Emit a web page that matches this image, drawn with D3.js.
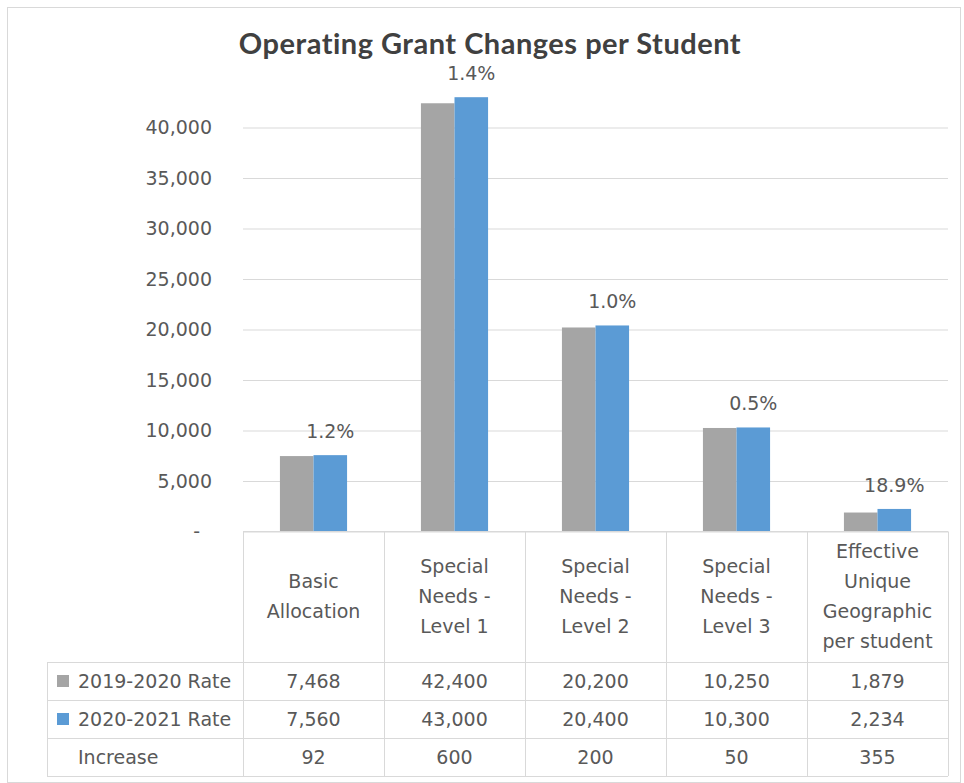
<!DOCTYPE html>
<html>
<head>
<meta charset="utf-8">
<script src="https://cdn.jsdelivr.net/npm/d3@7"></script>
<style>
  body { margin: 0; background: #fff; }
  text { font-family: "DejaVu Sans", sans-serif; fill: #595959; }
</style>
</head>
<body>
<svg id="chart" width="964" height="783"></svg>
<script>
// ---- data ----
const categories = ["Basic Allocation", "Special Needs - Level 1", "Special Needs - Level 2", "Special Needs - Level 3", "Effective Unique Geographic per student"];
const categoryLines = [
  ["Basic", "Allocation"],
  ["Special", "Needs -", "Level 1"],
  ["Special", "Needs -", "Level 2"],
  ["Special", "Needs -", "Level 3"],
  ["Effective", "Unique", "Geographic", "per student"]
];
const seriesNames = ["2019-2020 Rate", "2020-2021 Rate"];
const rate2019 = [7468, 42400, 20200, 10250, 1879];
const rate2021 = [7560, 43000, 20400, 10300, 2234];
const increase = [92, 600, 200, 50, 355];
const pctLabels = ["1.2%", "1.4%", "1.0%", "0.5%", "18.9%"];
const yTicks = [0, 5000, 10000, 15000, 20000, 25000, 30000, 35000, 40000];
const seriesColors = ["#a5a5a5", "#5b9bd5"];

// ---- layout ----
const svg = d3.select("#chart");
const plotLeft = 243, plotRight = 948, baseY = 531.5, tableBottom = 776;
const headerBottom = 662, tableLeft = 47;
const lineColor = "#d9d9d9";

// outer frame
svg.append("rect")
  .attr("x", 7.5).attr("y", 7.5).attr("width", 953).attr("height", 775)
  .attr("fill", "#fff").attr("stroke", lineColor);

// title
svg.append("text")
  .attr("x", 490).attr("y", 54)
  .attr("text-anchor", "middle")
  .style("font-family", "Lato, sans-serif")
  .style("font-weight", "bold")
  .style("font-size", "29px")
  .style("letter-spacing", "0.5px")
  .style("fill", "#404040")
  .text("Operating Grant Changes per Student");

// scales
const y = d3.scaleLinear().domain([0, 40000]).range([baseY, 127.5]);
const x0 = d3.scaleBand().domain(categories).range([plotLeft, plotRight]);
const x1 = d3.scaleBand().domain(seriesNames).range([0, x0.bandwidth()]).paddingOuter(1.1);

// y axis with gridlines
const fmt = d3.format(",");
const yAxis = svg.append("g")
  .attr("transform", `translate(${plotLeft},0)`)
  .call(d3.axisLeft(y).tickValues(yTicks).tickSize(-(plotRight - plotLeft)).tickPadding(31)
    .tickFormat(d => d === 0 ? "-" : fmt(d)));
yAxis.select(".domain").remove();
yAxis.selectAll(".tick line").attr("stroke", lineColor);
yAxis.selectAll(".tick text")
  .style("font-size", "19px")
  .style("fill", "#595959")
  .style("font-family", "'DejaVu Sans', sans-serif");
yAxis.selectAll(".tick").filter(d => d === 0).select("text").attr("x", -43);

// bars
const seriesValues = [rate2019, rate2021];
const groups = svg.append("g").selectAll("g")
  .data(categories)
  .join("g")
  .attr("transform", d => `translate(${x0(d)},0)`);

groups.selectAll("rect")
  .data((d, i) => seriesNames.map((s, k) => ({ s, v: seriesValues[k][i], k })))
  .join("rect")
  .attr("x", d => x1(d.s))
  .attr("width", x1.bandwidth())
  .attr("y", d => y(d.v))
  .attr("height", d => y(0) - y(d.v))
  .attr("fill", d => seriesColors[d.k]);

// percentage increase labels above the newer bar
groups.append("text")
  .attr("x", x1(seriesNames[1]) + x1.bandwidth() / 2)
  .attr("y", (d, i) => y(rate2021[i]) - 17)
  .attr("text-anchor", "middle")
  .style("font-size", "19px")
  .text((d, i) => pctLabels[i]);

// ---- data table ----
const rowNames = [seriesNames[0], seriesNames[1], "Increase"];
const rowValues = [rate2019, rate2021, increase];
const rows = d3.scaleBand().domain(rowNames).range([headerBottom, tableBottom]);

const grid = svg.append("g").attr("stroke", lineColor).attr("stroke-width", 1);
// top of header
grid.append("line").attr("x1", plotLeft).attr("x2", plotRight).attr("y1", baseY).attr("y2", baseY);
// horizontal row lines
rowNames.forEach(r => {
  grid.append("line").attr("x1", tableLeft).attr("x2", plotRight)
    .attr("y1", Math.round(rows(r)) + 0.5).attr("y2", Math.round(rows(r)) + 0.5);
});
grid.append("line").attr("x1", tableLeft).attr("x2", plotRight)
  .attr("y1", tableBottom + 0.5).attr("y2", tableBottom + 0.5);
// vertical lines
grid.append("line").attr("x1", tableLeft + 0.5).attr("x2", tableLeft + 0.5)
  .attr("y1", headerBottom).attr("y2", tableBottom);
categories.forEach(c => {
  const xx = Math.round(x0(c)) + 0.5;
  grid.append("line").attr("x1", xx).attr("x2", xx).attr("y1", baseY).attr("y2", tableBottom);
});
grid.append("line").attr("x1", plotRight + 0.5).attr("x2", plotRight + 0.5)
  .attr("y1", baseY).attr("y2", tableBottom);

// header labels (category names)
const headerMid = (baseY + headerBottom) / 2;
categories.forEach((c, i) => {
  const lines = categoryLines[i];
  const t = svg.append("text")
    .attr("text-anchor", "middle")
    .style("font-size", "19px");
  lines.forEach((ln, j) => {
    t.append("tspan")
      .attr("x", x0(c) + x0.bandwidth() / 2)
      .attr("y", headerMid + 6 + (j - (lines.length - 1) / 2) * 30)
      .text(ln);
  });
});

// row labels with legend keys
rowNames.forEach((r, k) => {
  const cy = rows(r) + rows.bandwidth() / 2;
  if (k < 2) {
    svg.append("rect")
      .attr("x", 57).attr("y", cy - 6).attr("width", 12).attr("height", 12)
      .attr("fill", seriesColors[k]);
  }
  svg.append("text")
    .attr("x", 78).attr("y", cy + 7)
    .style("font-size", "19px")
    .text(r);
  categories.forEach((c, i) => {
    svg.append("text")
      .attr("x", x0(c) + x0.bandwidth() / 2)
      .attr("y", cy + 7)
      .attr("text-anchor", "middle")
      .style("font-size", "19px")
      .text(fmt(rowValues[k][i]));
  });
});
</script>
</body>
</html>
